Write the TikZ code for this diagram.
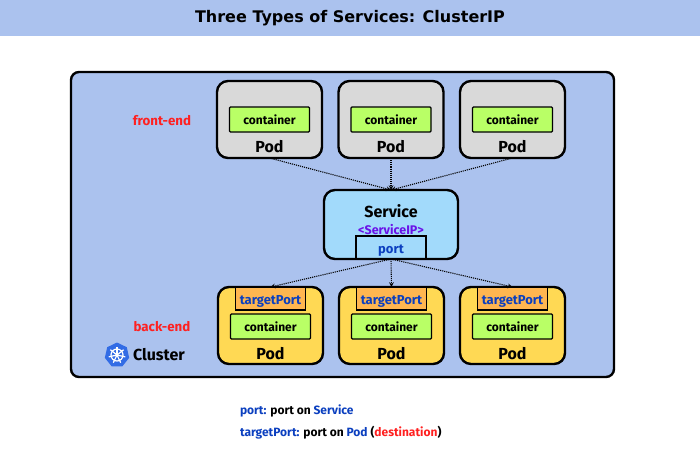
\documentclass[tikz,border=0pt]{standalone}
\usepackage{fontspec}
\setmainfont{Fira Sans}
\newfontfamily\titlefont{DejaVu Sans}
\usetikzlibrary{positioning, arrows.meta, shapes.geometric}

\definecolor{bandblue}{HTML}{ABC2EE}
\definecolor{podgray}{HTML}{D9D9D9}
\definecolor{podyellow}{HTML}{FFD954}
\definecolor{boxgreen}{HTML}{B9FF66}
\definecolor{svcblue}{HTML}{A2DAFB}
\definecolor{portorange}{HTML}{FFB650}
\definecolor{textblue}{HTML}{0B3FBF}
\definecolor{textred}{HTML}{FF2020}
\definecolor{textpurple}{HTML}{6A12E8}
\definecolor{k8sblue}{HTML}{326CE5}

\begin{document}
\begin{tikzpicture}[
    x=1pt, y=1pt,
    >=stealth,
    every node/.style={outer sep=0pt},
    % Styles for the boxes
    cluster/.style={rectangle, draw=black, line width=2.4pt, fill=bandblue, rounded corners=8pt, minimum width=543pt, minimum height=305pt, inner sep=0pt},
    frontpod/.style={rectangle, draw=black, line width=2.4pt, fill=podgray, rounded corners=11pt, minimum width=105pt, minimum height=77pt, inner sep=0pt},
    backpod/.style={rectangle, draw=black, line width=2.4pt, fill=podyellow, rounded corners=11pt, minimum width=105pt, minimum height=77pt, inner sep=0pt},
    service/.style={rectangle, draw=black, line width=2.4pt, fill=svcblue, rounded corners=11pt, minimum width=134pt, minimum height=69pt, inner sep=0pt},
    container/.style={rectangle, draw=black, line width=1.2pt, fill=boxgreen, rounded corners=1pt, minimum width=80pt, minimum height=25pt, inner sep=0pt, font=\fontsize{12pt}{14pt}\selectfont\bfseries},
    portbox/.style={rectangle, draw=black, line width=1.2pt, minimum width=70pt, minimum height=23pt, inner sep=0pt, text height=14pt, text depth=3pt, text=textblue, font=\fontsize{13pt}{15pt}\selectfont\bfseries},
    podlabel/.style={inner sep=0pt, font=\fontsize{16pt}{18pt}\selectfont\bfseries},
    tierlabel/.style={inner sep=0pt, text=textred, font=\fontsize{13.3pt}{15pt}\selectfont\bfseries},
    legend/.style={inner sep=0pt, anchor=west, font=\fontsize{12pt}{14pt}\selectfont\bfseries},
    link/.style={->, densely dotted, line width=1.1pt}
]
  \useasboundingbox (0,0) rectangle (700,-467);

  % --- TITLE ---
  \node[rectangle, fill=bandblue, minimum width=700pt, minimum height=36pt, inner sep=0pt, anchor=north west] (band) at (0,0) {};
  \node[inner sep=0pt, font=\titlefont\fontsize{16pt}{18pt}\selectfont\bfseries] (title) at (350,-18) {Three Types of Services: ClusterIP};

  % --- CLUSTER ---
  \node[cluster, anchor=north west] (cluster) at (71,-72) {};

  % --- FRONT-END PODS ---
  \node[frontpod, anchor=north west] (front1) at (217,-81) {};
  \node[frontpod, right=16.5pt of front1] (front2) {};
  \node[frontpod, right=16.5pt of front2] (front3) {};

  % --- SERVICE ---
  \node[service, anchor=north west] (svc) at (324,-190) {};
  \node[podlabel, below=15pt of svc.north] (svclabel) {Service};
  \node[inner sep=0pt, text=textpurple, font=\fontsize{12.5pt}{14pt}\selectfont\bfseries, below=34pt of svc.north] (svcip) {<ServiceIP>};
  \node[portbox, above=0pt of svc.south] (port) {port};

  % --- BACK-END PODS ---
  \node[backpod, anchor=north west] (back1) at (218,-287) {};
  \node[backpod, right=16pt of back1] (back2) {};
  \node[backpod, right=16pt of back2] (back3) {};

  % --- CONTAINERS, LABELS AND PORTS ---
  \foreach \i in {1,2,3} {
    \node[container, below=26pt of front\i.north] (fcont\i) {container};
    \node[podlabel, below=8pt of fcont\i] (fpod\i) {Pod};
    \node[portbox, fill=portorange, below=0pt of back\i.north] (target\i) {targetPort};
    \node[container, below=27pt of back\i.north] (bcont\i) {container};
    \node[podlabel, below=8pt of bcont\i] (bpod\i) {Pod};
  }

  % --- TIER LABELS ---
  \node[tierlabel] (frontend) at (162,-121) {front-end};
  \node[tierlabel] (backend) at (162,-327) {back-end};

  % --- CLUSTER ICON ---
  \node[regular polygon, regular polygon sides=7, fill=k8sblue, minimum size=25pt, inner sep=0pt] (icon) at (117,-355) {};
  \node[circle, draw=white, line width=1.2pt, minimum size=12pt, inner sep=0pt] (wheel) at (icon.center) {};
  \foreach \a in {90,141.4,...,400} {
    \draw[white, line width=1.2pt] (icon.center) -- ++(\a:8.5);
  }
  \node[inner sep=0pt, font=\fontsize{16pt}{18pt}\selectfont\bfseries, anchor=west] (clusterlabel) at (133,-355) {Cluster};

  % --- LINKS ---
  \draw[link] (front1.south) -- (svc.north);
  \draw[link] (front2.south) -- (svc.north);
  \draw[link] (front3.south) -- (svc.north);
  \draw[link] (svc.south) -- (target1.north);
  \draw[link] (svc.south) -- (target2.north);
  \draw[link] (svc.south) -- (target3.north);

  % --- LEGEND ---
  \node[legend] (legend1) at (240,-411) {\textcolor{textblue}{port:} port on \textcolor{textblue}{Service}};
  \node[legend] (legend2) at (240,-433) {\textcolor{textblue}{targetPort:} port on \textcolor{textblue}{Pod} (\textcolor{textred}{destination})};

\end{tikzpicture}
\end{document}
